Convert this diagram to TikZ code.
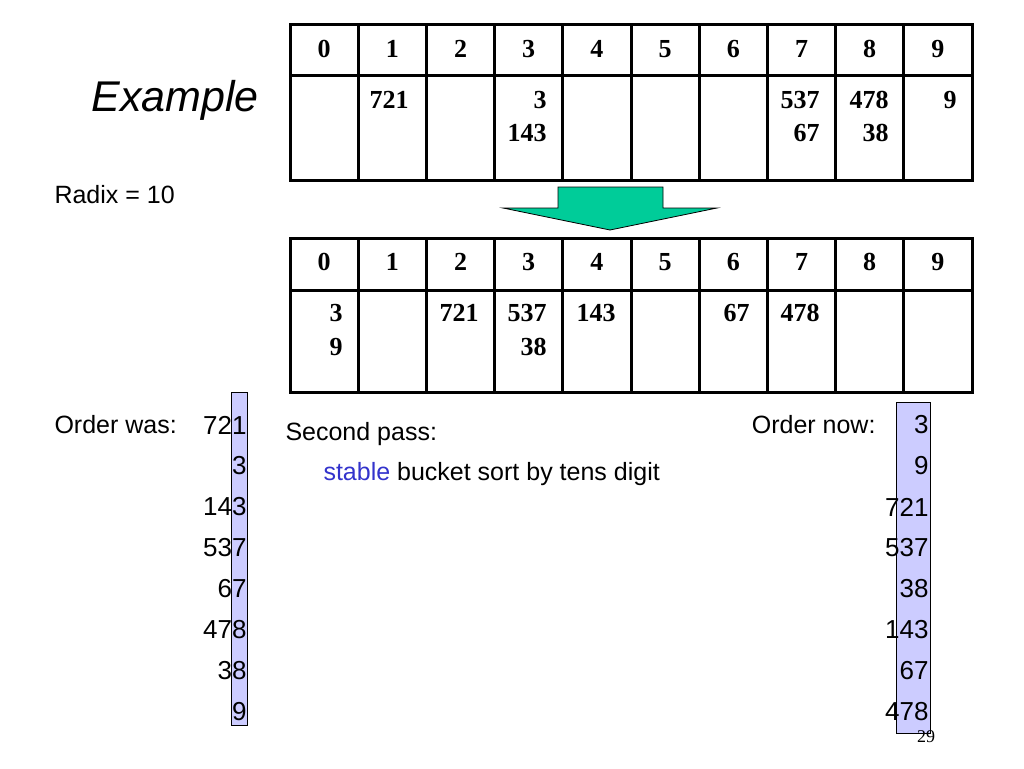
\documentclass[tikz,border=0pt]{standalone}
\usepackage{fontspec}
\setmainfont{Liberation Sans}
\newfontfamily\numfont{Liberation Serif}
\definecolor{barfill}{RGB}{204,204,255}
\definecolor{arrowgreen}{RGB}{0,204,153}
\definecolor{stableblue}{RGB}{51,51,204}
\tikzset{
  digit/.style={font=\numfont\bfseries\fontsize{26}{28}\selectfont, inner sep=0pt},
  entry/.style={digit, anchor=east},
  listnum/.style={font=\fontsize{26}{28}\selectfont, anchor=east, inner sep=0pt},
  label/.style={font=\fontsize{25}{28}\selectfont, anchor=west, inner sep=0pt}
}
\begin{document}
\begin{tikzpicture}[x=1pt,y=-1pt, line width=3pt]
\useasboundingbox (0,0) rectangle (1024,768);
% highlight bars
\draw [line width=0.8pt, fill=barfill] (231,392) rectangle (247,725);
\draw [line width=0.8pt, fill=barfill] (896,402) rectangle (930,733);
% tables
\foreach \top/\mid/\bot in {25/75/180, 238/290/392} {
  \draw (290,\top) rectangle (972,\bot);
  \draw (290,\mid) -- (972,\mid);
  \foreach \i in {1,...,9}
    \draw (290+68.2*\i,\top) -- (290+68.2*\i,\bot);
  \foreach \i in {0,...,9}
    \node [digit] at (324.1+68.2*\i,\top+24) {\i};
}
% first pass buckets
\node [entry] at (410,100) {721};
\node [entry] at (548,100) {3};
\node [entry] at (548,133) {143};
\node [entry] at (821,100) {537};
\node [entry] at (821,133) {67};
\node [entry] at (890,100) {478};
\node [entry] at (890,133) {38};
\node [entry] at (958,100) {9};
% second pass buckets
\node [entry] at (344,313) {3};
\node [entry] at (344,347) {9};
\node [entry] at (480,313) {721};
\node [entry] at (548,313) {537};
\node [entry] at (548,347) {38};
\node [entry] at (617,313) {143};
\node [entry] at (751,313) {67};
\node [entry] at (821,313) {478};
% arrow
\draw [line width=0.8pt, fill=arrowgreen] (558,187) -- (663,187) -- (663,208) -- (717,208)
  -- (610,230) -- (503,208) -- (558,208) -- cycle;
% labels
\node [font=\itshape\fontsize{43}{48}\selectfont, anchor=west, inner sep=0pt] (title) at (90,100) {Example};
\node [label] (radix) at (53,195) {Radix = 10};
\node [label] (was) at (53,425) {Order was:};
\node [label, anchor=east] (now) at (877,425) {Order now:};
\node [label] (pass) at (284,434) {Second pass:};
\node [label] (rule) at (322,474) {\textcolor{stableblue}{stable} bucket sort by tens digit};
\foreach \v [count=\k from 0] in {721,3,143,537,67,478,38,9}
  \node [listnum] (old\k) at (248,425+41*\k) {\v};
\foreach \v [count=\k from 0] in {3,9,721,537,38,143,67,478}
  \node [listnum] (new\k) at (930,425+41*\k) {\v};
\node [font=\numfont\fontsize{18}{20}\selectfont, inner sep=0pt] (page) at (926,737) {29};
\end{tikzpicture}
\end{document}
